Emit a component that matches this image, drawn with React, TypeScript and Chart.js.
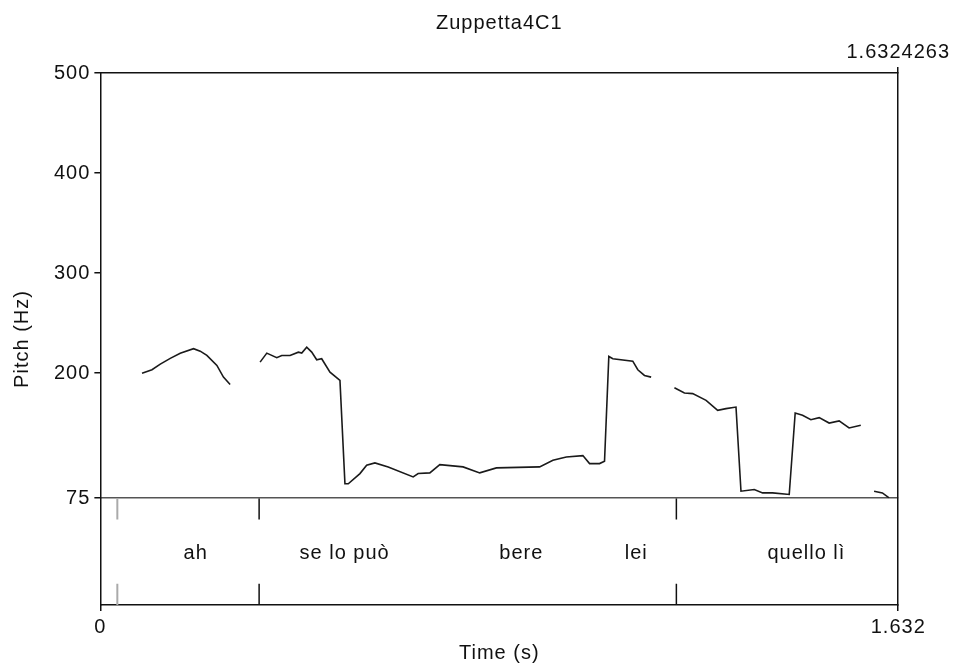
import React, { useEffect, useRef } from 'react';
import { Chart, registerables } from 'chart.js';

Chart.register(...registerables);

// ---------- data ----------
const TITLE = 'Zuppetta4C1';
const X_AXIS_TITLE = 'Time (s)';
const Y_AXIS_TITLE = 'Pitch (Hz)';

const TIME_MIN = 0;
const TIME_MAX = 1.6324263;
const PITCH_MIN = 75;
const PITCH_MAX = 500;

const xTickValues = [0, 1.6324263];
const xTickLabels = ['0', '1.632'];
const topTickValues = [1.6324263];
const topTickLabels = ['1.6324263'];
const yTickValues = [75, 200, 300, 400, 500];
const yTickLabels = ['75', '200', '300', '400', '500'];

// pitch contour (null = unvoiced gap)
const pitchTimes = [
  0.0852, 0.1056, 0.1226, 0.1430, 0.1634, 0.1906, 0.2043, 0.2179, 0.2384, 0.2518, 0.2655,
  0.296,
  0.3268, 0.3405, 0.3609, 0.3711, 0.3881, 0.4051, 0.4120, 0.4222, 0.4324, 0.4426, 0.4528,
  0.4698, 0.4902, 0.5004, 0.5072, 0.5311, 0.5448, 0.5617, 0.5889, 0.6400, 0.6502, 0.6741,
  0.6945, 0.7421, 0.7762, 0.8103, 0.8987, 0.9259, 0.9533, 0.9872, 1.0009, 1.0213, 1.0315,
  1.0403, 1.0485, 1.0893, 1.0996, 1.1132, 1.1269,
  1.150,
  1.1745, 1.1950, 1.2119, 1.2393, 1.2630, 1.2801, 1.3005, 1.3107, 1.3379, 1.3549, 1.3753,
  1.4094, 1.4216, 1.4366, 1.4537, 1.4707, 1.4911, 1.5115, 1.5319, 1.5558,
  1.570,
  1.5830, 1.6000, 1.6137,
];
const pitchValues = [
  200, 203.4, 209, 214.8, 219.8, 224.5, 222, 217.7, 207.7, 196, 188.7,
  null,
  211, 220, 215.4, 217.7, 217.7, 221, 220, 226, 221, 213.4, 214.4,
  201, 192.7, 89.4, 89.4, 99.6, 108, 110.3, 106.3, 96.3, 99.7, 100.3,
  108.6, 106.3, 100.3, 105.3, 106.3, 112.9, 116.2, 117.6, 109.6, 109.6, 112,
  216.7, 214.4, 212, 203.4, 197.7, 196,
  null,
  185.4, 180.1, 179.5, 172.8, 162.8, 164.5, 166.1, 82, 83.7, 80.3, 80.3,
  78.7, 160.1, 157.8, 153.5, 155.5, 150.1, 152.2, 145.2, 147.9,
  null,
  82, 80.3, 75.3,
];

// text tier
const tierBoundaryTimes = [0.3248, 1.1785];
const tierGreyBoundaryTimes = [0.0347];
const tierLabels = ['ah', 'se lo può', 'bere', 'lei', 'quello lì'];
const tierLabelTimes = [0.1951, 0.4998, 0.8614, 1.0963, 1.4445];

// ---------- style ----------
const FAMILY = '"Liberation Sans", Arial, sans-serif';
const FONT = { family: FAMILY, size: 20, weight: 'normal' as const };
const FONT_TIGHT = { family: FAMILY, size: 20, weight: 'normal' as const, lineHeight: 1 };
const TEXT = '#111';
const AXIS = '#111';
const TICK_FRAC = 0.2;
const TIER_LABEL_POS = 0.485;

const boundaryPoints = (times: number[]) =>
  times.flatMap((t) => [
    { x: t, y: 1 },
    { x: t, y: 1 - TICK_FRAC },
    { x: t, y: null },
    { x: t, y: TICK_FRAC },
    { x: t, y: 0 },
    { x: t, y: null },
  ]);

const spacingPlugin = {
  id: 'spacing',
  beforeLayout(chart: any) {
    chart.ctx.letterSpacing = '1px';
  },
  beforeDraw(chart: any) {
    chart.ctx.letterSpacing = '1px';
  },
};

const tierLabelPlugin = {
  id: 'tierLabels',
  afterDatasetsDraw(chart: any) {
    const { ctx, scales } = chart;
    const xs = scales.x;
    const ys = scales.yTier;
    ctx.save();
    ctx.letterSpacing = '1px';
    ctx.font = `${FONT.size}px ${FONT.family}`;
    ctx.fillStyle = TEXT;
    ctx.textAlign = 'center';
    ctx.textBaseline = 'middle';
    tierLabels.forEach((label, i) => {
      ctx.fillText(label, xs.getPixelForValue(tierLabelTimes[i]), ys.getPixelForValue(TIER_LABEL_POS));
    });
    ctx.restore();
  },
};

export default function App() {
  const ref = useRef<HTMLCanvasElement>(null);

  useEffect(() => {
    if (!ref.current) return;
    const pitchData = pitchTimes.map((t, i) => ({ x: t, y: pitchValues[i] }));
    const chart = new Chart(ref.current, {
      type: 'line',
      data: {
        datasets: [
          {
            data: pitchData as any,
            yAxisID: 'y',
            xAxisID: 'x',
            borderColor: '#1a1a1a',
            borderWidth: 1.6,
            pointRadius: 0,
            tension: 0,
            spanGaps: false,
          },
          {
            data: boundaryPoints(tierBoundaryTimes) as any,
            yAxisID: 'yTier',
            xAxisID: 'x',
            borderColor: '#111',
            borderWidth: 1.5,
            pointRadius: 0,
            spanGaps: false,
          },
          {
            data: boundaryPoints(tierGreyBoundaryTimes) as any,
            yAxisID: 'yTier',
            xAxisID: 'x',
            borderColor: '#aaa',
            borderWidth: 2,
            pointRadius: 0,
            spanGaps: false,
          },
        ],
      },
      options: {
        animation: false,
        responsive: true,
        maintainAspectRatio: false,
        layout: { padding: { left: 0, right: 54, top: 0, bottom: 0 } },
        plugins: {
          legend: { display: false },
          tooltip: { enabled: false },
          title: {
            display: true,
            fullSize: false,
            text: TITLE,
            color: TEXT,
            font: FONT,
            padding: { top: 11, bottom: 2 },
          },
        },
        scales: {
          x: {
            type: 'linear',
            position: 'bottom',
            min: TIME_MIN,
            max: TIME_MAX,
            afterBuildTicks: (s: any) => {
              s.ticks = xTickValues.map((v) => ({ value: v }));
            },
            ticks: {
              color: TEXT,
              font: FONT_TIGHT,
              padding: 6,
              maxRotation: 0,
              autoSkip: false,
              callback: (v: any) => xTickLabels[xTickValues.indexOf(v)] ?? '',
            },
            grid: { drawOnChartArea: false, drawTicks: true, tickLength: 6, tickColor: AXIS, lineWidth: 1.5 },
            border: { display: true, color: AXIS, width: 1.5 },
            title: { display: true, text: X_AXIS_TITLE, color: TEXT, font: FONT_TIGHT, padding: { top: 0, bottom: 1 } },
          },
          x2: {
            type: 'linear',
            position: 'top',
            min: TIME_MIN,
            max: TIME_MAX,
            afterBuildTicks: (s: any) => {
              s.ticks = topTickValues.map((v) => ({ value: v }));
            },
            ticks: {
              color: TEXT,
              font: FONT_TIGHT,
              padding: 5,
              maxRotation: 0,
              autoSkip: false,
              callback: (v: any) => topTickLabels[topTickValues.indexOf(v)] ?? '',
            },
            grid: { drawOnChartArea: false, drawTicks: true, tickLength: 6, tickColor: AXIS, lineWidth: 1.5 },
            border: { display: true, color: AXIS, width: 1.5 },
          },
          yTier: {
            type: 'linear',
            position: 'left',
            stack: 'v',
            stackWeight: 107,
            min: 0,
            max: 1,
            ticks: { display: false },
            grid: { display: false, drawTicks: false },
            border: { display: true, color: AXIS, width: 1.5 },
          },
          y: {
            type: 'linear',
            position: 'left',
            stack: 'v',
            stackWeight: 426,
            min: PITCH_MIN,
            max: PITCH_MAX,
            afterBuildTicks: (s: any) => {
              s.ticks = yTickValues.map((v) => ({ value: v }));
            },
            ticks: {
              color: TEXT,
              font: FONT,
              padding: 4,
              autoSkip: false,
              callback: (v: any) => yTickLabels[yTickValues.indexOf(v)] ?? '',
            },
            grid: {
              drawOnChartArea: true,
              drawTicks: true,
              tickLength: 6,
              tickColor: AXIS,
              lineWidth: 1.5,
              color: (c: any) => (c.tick && c.tick.value === PITCH_MIN ? '#555' : 'rgba(0,0,0,0)'),
            },
            border: { display: true, color: AXIS, width: 1.5 },
          },
          yTitle: {
            type: 'linear',
            position: 'left',
            weight: 10,
            min: 0,
            max: 1,
            ticks: { display: false },
            grid: { display: false, drawTicks: false },
            border: { display: false },
            title: { display: true, text: Y_AXIS_TITLE, color: TEXT, font: FONT, padding: { top: 10, bottom: 16 } },
          },
          yRight: {
            type: 'linear',
            position: 'right',
            min: 0,
            max: 1,
            ticks: { display: false },
            grid: { display: false, drawTicks: false },
            border: { display: true, color: AXIS, width: 1.5 },
          },
        } as any,
      },
      plugins: [spacingPlugin, tierLabelPlugin],
    } as any);
    return () => chart.destroy();
  }, []);

  return (
    <div style={{ position: 'fixed', left: 0, top: 0, width: 955, height: 664, background: '#fff' }}>
      <canvas ref={ref} />
    </div>
  );
}
